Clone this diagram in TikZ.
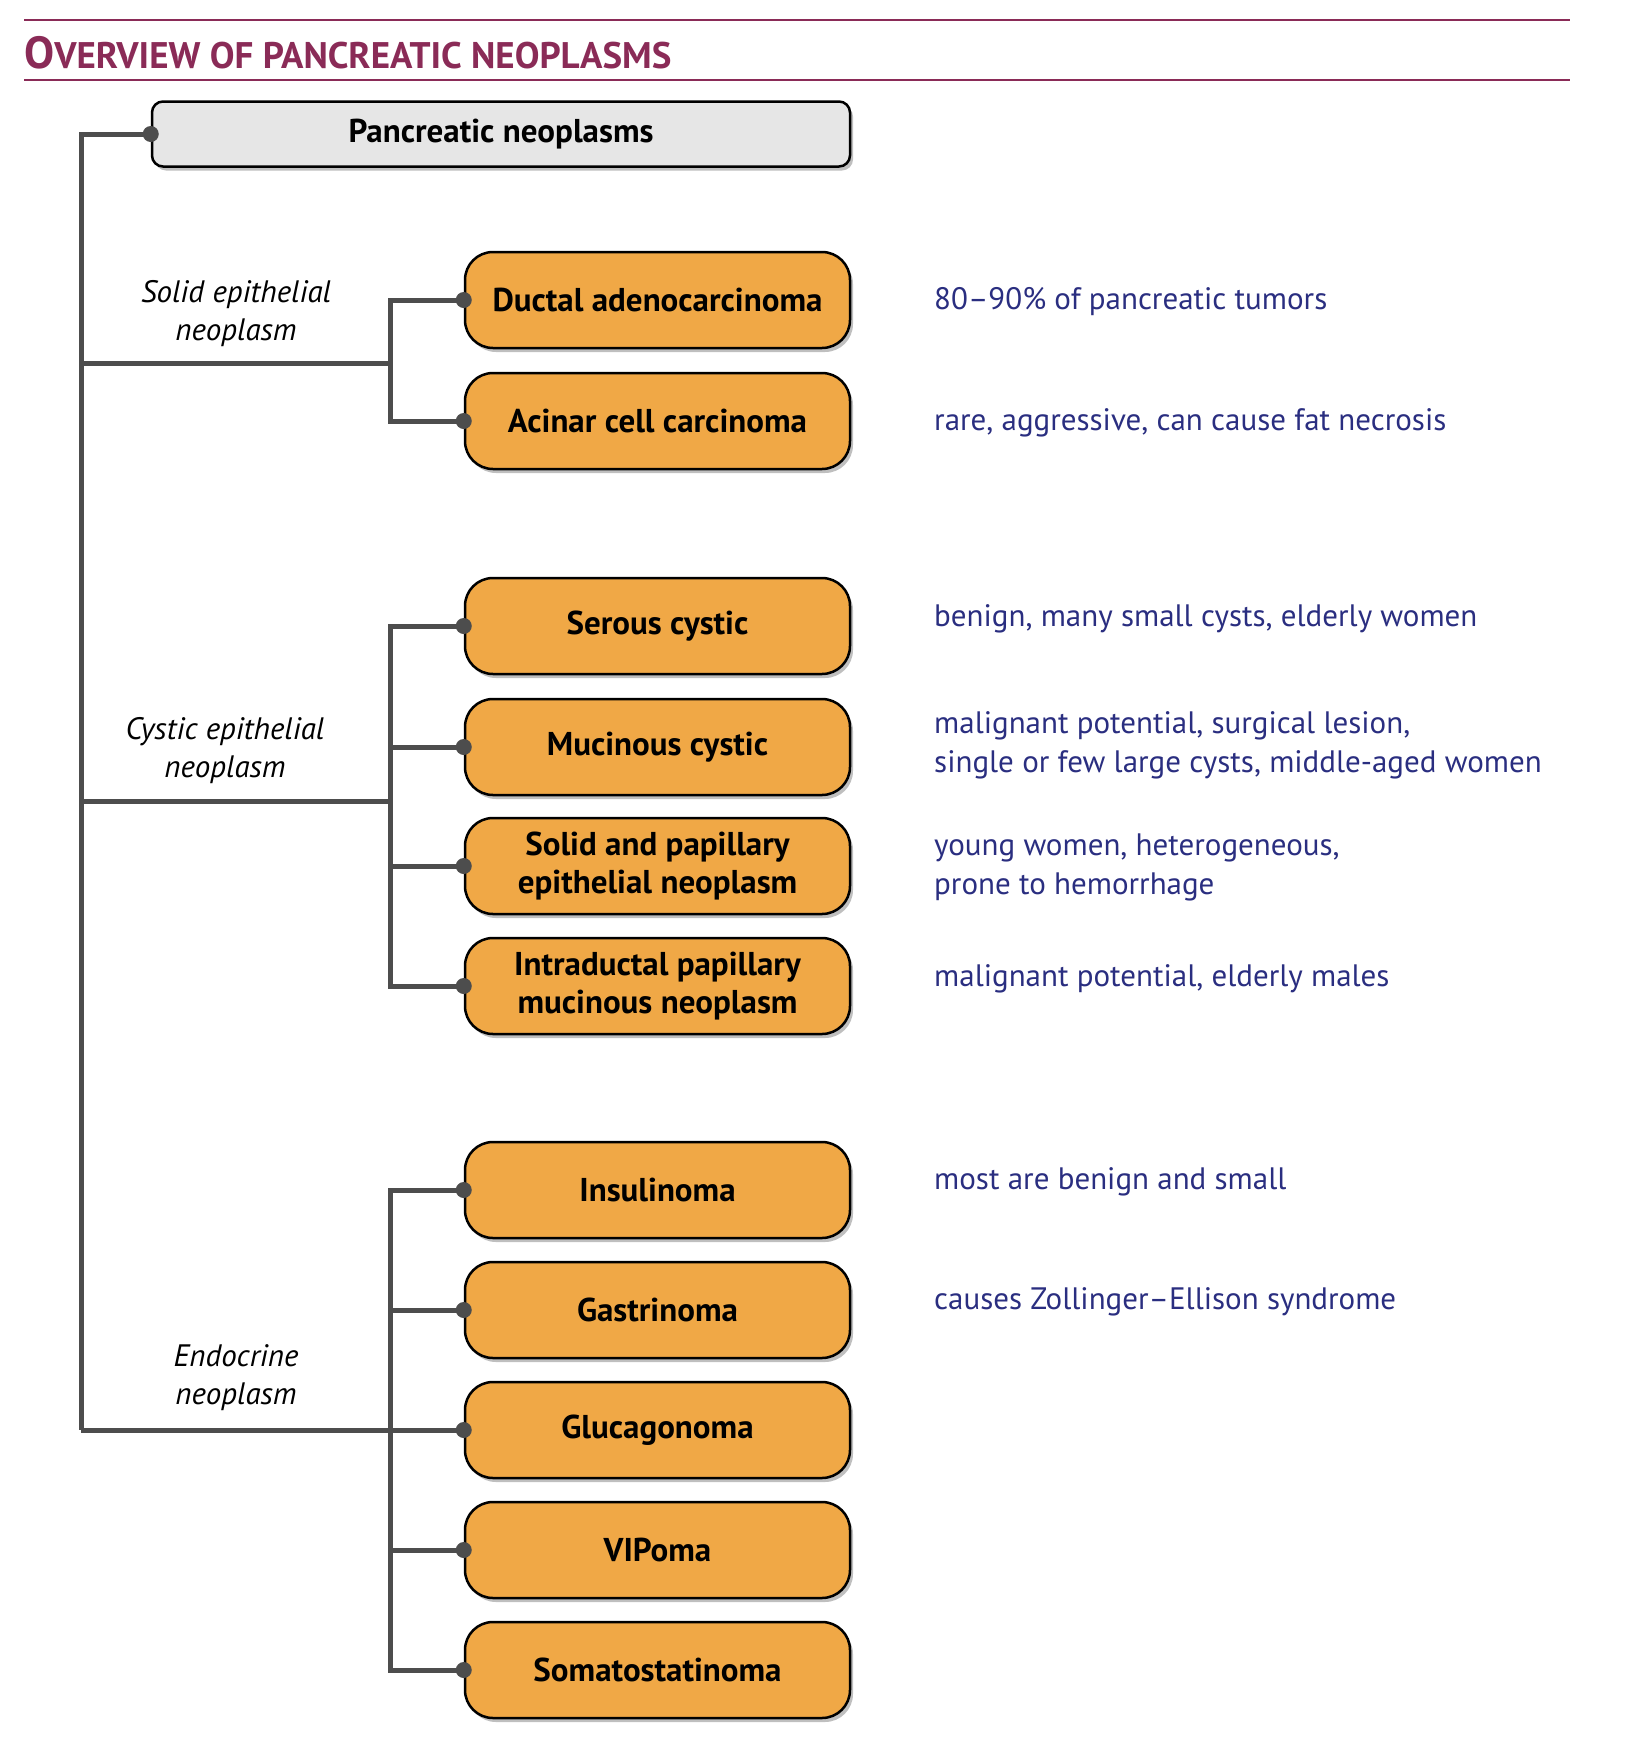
\documentclass[tikz,border=0pt]{standalone}
\usepackage{fontspec}
\setmainfont{PT Sans}
\usetikzlibrary{shadows}
\definecolor{plum}{HTML}{8A2B57}
\definecolor{tumorfill}{HTML}{F0A846}
\definecolor{rootfill}{HTML}{E6E6E6}
\definecolor{linkgray}{HTML}{4D4D4D}
\definecolor{noteblue}{HTML}{2A2E80}

\begin{document}
\begin{tikzpicture}[x=1pt,y=-1pt,
    soft shadow/.style={drop shadow={shadow xshift=3pt,shadow yshift=-4pt,opacity=0.25,fill=black}},
    rootbox/.style={draw=black,line width=2.5pt,fill=rootfill,rounded corners=11pt,
      minimum width=698pt,minimum height=65pt,inner sep=0pt,soft shadow,
      font=\fontsize{33}{40}\selectfont\bfseries},
    tumour/.style={draw=black,line width=2.5pt,fill=tumorfill,rounded corners=28pt,
      minimum width=385pt,minimum height=96pt,inner sep=0pt,align=center,soft shadow,
      font=\fontsize{33}{38}\selectfont\bfseries},
    grouplabel/.style={align=center,inner sep=0pt,font=\fontsize{31}{38}\selectfont\itshape},
    note/.style={anchor=west,align=left,inner sep=0pt,text=noteblue,font=\fontsize{31}{39}\selectfont},
    link/.style={draw=linkgray,line width=5pt}]

  \useasboundingbox (0,0) rectangle (1640,1738);

  \draw[plum,line width=2.5pt] (24,20) -- (1570,20);
  \draw[plum,line width=2.5pt] (24,80) -- (1570,80);
  \node[anchor=base west,inner sep=0pt,text=plum,font=\bfseries] (title) at (24,68)
    {{\fontsize{45}{40}\selectfont O}{\fontsize{37}{40}\selectfont VERVIEW OF PANCREATIC NEOPLASMS}};

  \node[rootbox] (root) at (501,134) {Pancreatic neoplasms};

  \node[tumour] (ductal) at (657.5,300) {Ductal adenocarcinoma};
  \node[tumour] (acinar) at (657.5,421) {Acinar cell carcinoma};

  \node[tumour] (serous) at (657.5,626) {Serous cystic};
  \node[tumour] (mucinous) at (657.5,747) {Mucinous cystic};
  \node[tumour] (spen) at (657.5,866) {Solid and papillary\\epithelial neoplasm};
  \node[tumour] (ipmn) at (657.5,986) {Intraductal papillary\\mucinous neoplasm};

  \node[tumour] (insulinoma) at (657.5,1190) {Insulinoma};
  \node[tumour] (gastrinoma) at (657.5,1310) {Gastrinoma};
  \node[tumour] (glucagonoma) at (657.5,1430) {Glucagonoma};
  \node[tumour] (vipoma) at (657.5,1550) {VIPoma};
  \node[tumour] (somato) at (657.5,1670) {Somatostatinoma};

  \node[grouplabel] (solidlabel) at (236,314) {Solid epithelial\\neoplasm};
  \node[grouplabel] (cysticlabel) at (225,751) {Cystic epithelial\\neoplasm};
  \node[grouplabel] (endolabel) at (236,1378) {Endocrine\\neoplasm};

  \node[note] (ductalnote) at (934,302) {80--90\% of pancreatic tumors};
  \node[note] (acinarnote) at (934,423) {rare, aggressive, can cause fat necrosis};
  \node[note] (serousnote) at (934,619) {benign, many small cysts, elderly women};
  \node[note] (mucinousnote) at (934,745) {malignant potential, surgical lesion,\\single or few large cysts, middle-aged women};
  \node[note] (spennote) at (934,867) {young women, heterogeneous,\\prone to hemorrhage};
  \node[note] (ipmnnote) at (934,979) {malignant potential, elderly males};
  \node[note] (insulinomanote) at (934,1182) {most are benign and small};
  \node[note] (gastrinomanote) at (934,1302) {causes Zollinger--Ellison syndrome};

  \coordinate (trunkfoot) at (81,1430);
  \coordinate (solidfork) at (390,363);
  \coordinate (cysticfork) at (390,801);
  \coordinate (endofork) at (390,1430);

  \draw[link] (root.west) -| (trunkfoot);

  \draw[link] (ductal.west) -| (solidfork) |- (acinar.west);
  \draw[link] (solidfork) -- (solidfork -| trunkfoot);

  \draw[link] (serous.west) -| (cysticfork) |- (ipmn.west);
  \draw[link] (mucinous.west) -- (mucinous.west -| cysticfork);
  \draw[link] (spen.west) -- (spen.west -| cysticfork);
  \draw[link] (cysticfork) -- (cysticfork -| trunkfoot);

  \draw[link] (insulinoma.west) -| (endofork) |- (somato.west);
  \draw[link] (gastrinoma.west) -- (gastrinoma.west -| endofork);
  \draw[link] (vipoma.west) -- (vipoma.west -| endofork);
  \draw[link] (trunkfoot) -- (glucagonoma.west);

  \foreach \n in {root,ductal,acinar,serous,mucinous,spen,ipmn,insulinoma,gastrinoma,glucagonoma,vipoma,somato}
    \fill[linkgray] (\n.west) circle (8pt);

\end{tikzpicture}
\end{document}
